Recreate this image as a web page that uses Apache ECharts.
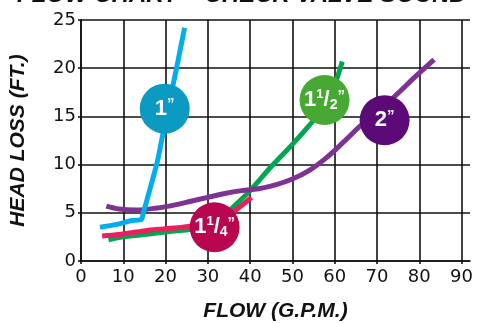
<!DOCTYPE html>
<html>
<head>
<meta charset="utf-8">
<script src="https://cdn.jsdelivr.net/npm/echarts@6/dist/echarts.min.js"></script>
<style>
  html, body { margin: 0; padding: 0; background: #fff; }
  #chart { width: 479px; height: 323px; }
</style>
</head>
<body>
<div id="chart"></div>
<script>
// flow (G.P.M.) vs head loss (ft.) per valve size
const xTicks = [0, 10, 20, 30, 40, 50, 60, 70, 80, 90];
const yTicks = [0, 5, 10, 15, 20, 25];

const oneInch = [[4.5, 3.5], [8.5, 3.8], [12, 4.2], [14.3, 4.3], [14.7, 4.9],
  [18, 10.2], [20.2, 15], [22.6, 20], [24.5, 24.2]];
const oneQuarter = [[5, 2.6], [9, 2.75], [13, 3.0], [16, 3.2], [20, 3.35], [24, 3.5],
  [28, 3.8], [32, 4.2], [36, 5.1], [40.3, 6.6]];
const oneHalf = [[6.5, 2.2], [10, 2.5], [14, 2.7], [18, 2.9], [22, 3.1], [26, 3.3],
  [30, 3.7], [33, 4.4], [36, 5.6], [40, 7.3], [45, 9.8], [50, 12.1], [55, 14.6],
  [58, 16.4], [60, 18.3], [61.8, 20.7]];
const twoInch = [[6, 5.7], [9, 5.4], [13, 5.3], [18, 5.5], [22, 5.8], [26, 6.2],
  [30, 6.6], [34, 7.0], [38, 7.3], [42, 7.5], [46, 7.9], [50, 8.5], [54, 9.4],
  [58, 10.7], [62, 12.3], [66, 14.0], [70, 15.6], [74, 17.0], [79, 19.1], [83.5, 20.9]];

// where the size badges sit
const badges = [
  { name: '1"', pos: [19.8, 15.8], color: '#0b9bc2', text: '{a|1}{q|”}' },
  { name: '1 1/2"', pos: [57.6, 16.7], color: '#48a834', text: '{a|1}{s|1}{a|/}{d|2}{q|”}' },
  { name: '2"', pos: [71.8, 14.6], color: '#5c0a78', text: '{a|2}{q|”}' },
  { name: '1 1/4"', pos: [31.6, 3.5], color: '#b8064f', text: '{a|1}{s|1}{a|/}{d|4}{q|”}' }
];

const axisColor = '#111';
const chart = echarts.init(document.getElementById('chart'));

function curve(name, data, color, smooth) {
  return {
    name: name,
    type: 'line',
    data: data,
    smooth: smooth,
    showSymbol: false,
    lineStyle: { color: color, width: 5 },
    z: 3
  };
}

const series = [
  curve('1 1/2"', oneHalf, '#00a651', 0.35),
  curve('2"', twoInch, '#7e3394', 0.35),
  curve('1 1/4"', oneQuarter, '#ed1e5e', 0.3),
  curve('1"', oneInch, '#00aeef', 0.12)
];

badges.forEach(function (b) {
  series.push({
    name: b.name + ' label',
    type: 'scatter',
    data: [b.pos],
    symbolSize: 50,
    itemStyle: { color: b.color, opacity: 1 },
    z: 5,
    label: {
      show: true,
      position: 'inside',
      formatter: b.text,
      rich: {
        a: { color: '#fff', fontSize: 22, fontWeight: 'bold', fontFamily: 'Liberation Sans', lineHeight: 24 },
        s: { color: '#fff', fontSize: 13, fontWeight: 'bold', fontFamily: 'Liberation Sans', lineHeight: 13, verticalAlign: 'top' },
        d: { color: '#fff', fontSize: 14, fontWeight: 'bold', fontFamily: 'Liberation Sans', lineHeight: 14, verticalAlign: 'bottom' },
        q: { color: '#fff', fontSize: 15, fontWeight: 'bold', fontFamily: 'Liberation Sans', lineHeight: 15, verticalAlign: 'top' }
      }
    }
  });
});

chart.setOption({
  animation: false,
  title: {
    text: 'FLOW CHART – CHECK VALVE SOUND',
    left: 12,
    top: -22,
    textStyle: { fontSize: 24, fontWeight: 'bold', fontStyle: 'italic', fontFamily: 'Liberation Sans', color: '#111' }
  },
  grid: { left: 81, top: 20, right: 9, bottom: 62, outerBoundsMode: 'none' },
  xAxis: {
    type: 'value',
    min: 0,
    max: 92,
    interval: 10,
    name: 'FLOW (G.P.M.)',
    nameLocation: 'middle',
    nameGap: 40,
    nameTextStyle: { fontSize: 21, fontWeight: 'bold', fontStyle: 'italic', fontFamily: 'Liberation Sans', color: '#111' },
    axisLine: { show: true, lineStyle: { color: axisColor, width: 1.6 } },
    axisTick: { show: true, length: 3, customValues: xTicks, lineStyle: { color: axisColor, width: 1.6 } },
    axisLabel: { customValues: xTicks, fontSize: 18, color: '#111', fontFamily: 'DejaVu Sans', margin: 7 },
    splitLine: { show: true, lineStyle: { color: axisColor, width: 1.6 } }
  },
  yAxis: {
    type: 'value',
    min: 0,
    max: 25,
    interval: 5,
    name: 'HEAD LOSS (FT.)',
    nameLocation: 'middle',
    nameRotate: 90,
    nameGap: 52,
    nameTextStyle: { fontSize: 21, fontWeight: 'bold', fontStyle: 'italic', fontFamily: 'Liberation Sans', color: '#111' },
    axisLine: { show: true, lineStyle: { color: axisColor, width: 1.6 } },
    axisTick: { show: true, length: 3, customValues: yTicks, lineStyle: { color: axisColor, width: 1.6 } },
    axisLabel: { customValues: yTicks, fontSize: 18, color: '#111', fontFamily: 'DejaVu Sans', margin: 5 },
    splitLine: { show: true, lineStyle: { color: axisColor, width: 1.6 } }
  },
  series: series
});
</script>
</body>
</html>
